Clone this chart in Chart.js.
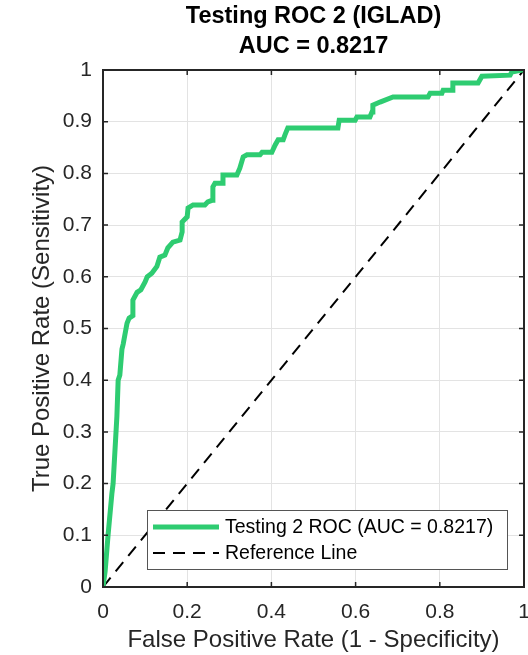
<!DOCTYPE html>
<html>
<head>
<meta charset="utf-8">
<script src="https://cdn.jsdelivr.net/npm/chart.js@4.4.0/dist/chart.umd.min.js"></script>
<style>
  html, body { margin: 0; padding: 0; background: #fff; }
  #wrap { width: 528px; height: 655px; }
</style>
</head>
<body>
<div id="wrap"><canvas id="roc" width="528" height="655"></canvas></div>
<script>
// ROC points
var fpr = [0, 0.005, 0.012, 0.021, 0.024, 0.033, 0.036, 0.040, 0.045, 0.048, 0.057, 0.062, 0.071, 0.071,
    0.081, 0.090, 0.100, 0.105, 0.116, 0.128, 0.135, 0.147, 0.154, 0.166, 0.183, 0.188, 0.188, 0.200,
    0.202, 0.214, 0.242, 0.249, 0.259, 0.261, 0.266, 0.283, 0.285, 0.318, 0.325, 0.333, 0.342, 0.373,
    0.378, 0.401, 0.409, 0.416, 0.428, 0.432, 0.439, 0.558, 0.561, 0.599, 0.603, 0.634, 0.639, 0.641,
    0.658, 0.689, 0.772, 0.777, 0.805, 0.808, 0.829, 0.831, 0.891, 0.900, 0.967, 0.971, 0.995, 1];
var tpr = [0, 0.03, 0.10, 0.18, 0.20, 0.33, 0.40, 0.41, 0.46, 0.47, 0.51, 0.52, 0.525, 0.555,
    0.57, 0.575, 0.59, 0.60, 0.607, 0.62, 0.638, 0.642, 0.656, 0.667, 0.671, 0.687, 0.706, 0.716,
    0.733, 0.739, 0.739, 0.745, 0.748, 0.774, 0.781, 0.781, 0.797, 0.797, 0.81, 0.832, 0.836, 0.836,
    0.841, 0.841, 0.855, 0.865, 0.865, 0.874, 0.888, 0.888, 0.903, 0.903, 0.909, 0.909, 0.919, 0.932,
    0.938, 0.948, 0.948, 0.955, 0.955, 0.961, 0.961, 0.975, 0.975, 0.988, 0.990, 0.996, 1.0, 1.0];
var refX = [0, 1];
var refY = [0, 1];
var rocLabel = 'Testing 2 ROC (AUC = 0.8217)';
var refLabel = 'Reference Line';
var titleLines = ['Testing ROC 2 (IGLAD)', 'AUC = 0.8217'];

var txtColor = '#262626';
var fontFam = '"Liberation Sans", Arial, Helvetica, sans-serif';

function toPoints(xs, ys){
    return xs.map(function(x, i){ return {x: x, y: ys[i]}; });
}

function fmtTick(v){
    return String(Math.round(v * 10) / 10);
}

// box around the axes + inward ticks, matlab style
var boxPlugin = {
    id: 'box',
    afterDatasetsDraw: function(chart){
        var c = chart.ctx, a = chart.chartArea;
        var xs = chart.scales.x, ys = chart.scales.y;
        c.save();
        c.strokeStyle = txtColor;
        c.lineWidth = 1.5;
        c.beginPath();
        xs.ticks.forEach(function(t){
            var p = xs.getPixelForValue(t.value);
            c.moveTo(p, a.bottom); c.lineTo(p, a.bottom - 5);
            c.moveTo(p, a.top); c.lineTo(p, a.top + 5);
        });
        ys.ticks.forEach(function(t){
            var p = ys.getPixelForValue(t.value);
            c.moveTo(a.left, p); c.lineTo(a.left + 5, p);
            c.moveTo(a.right, p); c.lineTo(a.right - 5, p);
        });
        c.stroke();
        c.lineWidth = 2;
        c.strokeRect(a.left, a.top, a.right - a.left, a.bottom - a.top);
        c.restore();
    },
    afterDraw: function(chart){
        // legend box inside the plot, lower right
        var c = chart.ctx;
        var x0 = 147, y0 = 510, w = 360, h = 59;
        c.save();
        c.fillStyle = '#fff';
        c.fillRect(x0, y0, w, h);
        c.strokeStyle = '#555';
        c.lineWidth = 1;
        c.strokeRect(x0 + 0.5, y0 + 0.5, w, h);
        c.font = '19.5px ' + fontFam;
        c.textBaseline = 'middle';
        c.fillStyle = '#000';
        chart.data.datasets.forEach(function(ds, i){
            var yy = y0 + 17 + i * 26;
            c.strokeStyle = ds.borderColor;
            c.lineWidth = ds.borderWidth;
            c.setLineDash(ds.borderDash || []);
            c.beginPath();
            c.moveTo(x0 + 6, yy); c.lineTo(x0 + 72, yy);
            c.stroke();
            c.setLineDash([]);
            c.fillText(ds.label, x0 + 78, yy + 1);
        });
        c.restore();
    }
};

var ctx = document.getElementById('roc').getContext('2d');
var chart = new Chart(ctx, {
    type: 'scatter',
    data: {
        datasets: [
            {
                label: rocLabel,
                data: toPoints(fpr, tpr),
                showLine: true,
                borderColor: '#2ecc71',
                backgroundColor: '#2ecc71',
                borderWidth: 5,
                pointRadius: 0,
                tension: 0
            },
            {
                label: refLabel,
                data: toPoints(refX, refY),
                showLine: true,
                borderColor: '#000',
                backgroundColor: '#000',
                borderWidth: 2,
                borderDash: [12, 8],
                pointRadius: 0
            }
        ]
    },
    options: {
        responsive: false,
        animation: false,
        layout: { padding: { left: 0, right: 4, top: 0, bottom: 0 } },
        plugins: {
            legend: { display: false },
            tooltip: { enabled: false },
            title: {
                display: true,
                text: titleLines,
                fullSize: false,
                color: '#000',
                font: { family: fontFam, size: 23.5, weight: 'bold', lineHeight: '30px' },
                padding: { top: 2, bottom: 8 }
            }
        },
        scales: {
            x: {
                type: 'linear',
                min: 0, max: 1,
                afterFit: function(s){ s.height = 68; s.paddingLeft = 0; s.paddingRight = 0; },
                ticks: { stepSize: 0.2, callback: fmtTick, color: txtColor, padding: 13, font: { family: fontFam, size: 21 } },
                grid: { color: '#e3e3e3', drawTicks: false },
                border: { display: false },
                title: {
                    display: true,
                    text: 'False Positive Rate (1 - Specificity)',
                    color: txtColor,
                    font: { family: fontFam, size: 24 },
                    padding: { top: 0, bottom: 0 }
                }
            },
            y: {
                type: 'linear',
                min: 0, max: 1,
                afterFit: function(s){ s.width = 103; s.paddingTop = 0; s.paddingBottom = 0; },
                ticks: { stepSize: 0.1, callback: fmtTick, color: txtColor, padding: 11, font: { family: fontFam, size: 21 } },
                grid: { color: '#e3e3e3', drawTicks: false },
                border: { display: false },
                title: {
                    display: true,
                    text: 'True Positive Rate (Sensitivity)',
                    color: txtColor,
                    font: { family: fontFam, size: 24 },
                    padding: { top: 28, bottom: 0 }
                }
            }
        }
    },
    plugins: [boxPlugin]
});
</script>
</body>
</html>
